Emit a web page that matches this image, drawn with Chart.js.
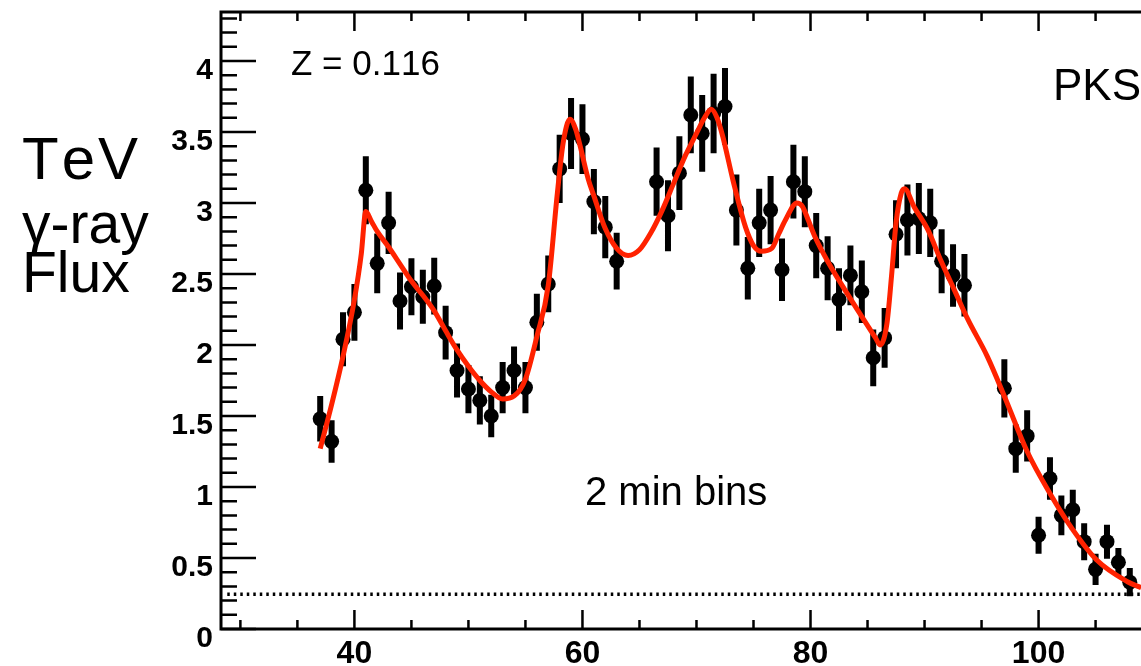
<!DOCTYPE html>
<html>
<head>
<meta charset="utf-8">
<script src="https://cdn.jsdelivr.net/npm/chart.js@4"></script>
<style>
  html, body { margin: 0; padding: 0; background: #fff; overflow: hidden; }
  #wrap { position: relative; width: 1141px; height: 666px; overflow: hidden; }
  canvas { position: absolute; left: 0; top: 0; }
  .txt { position: absolute; font-family: "Liberation Sans", Arial, sans-serif; color: #000; line-height: 1; white-space: nowrap; font-kerning: none; }
</style>
</head>
<body>
<div id="wrap">
  <canvas id="grafico" width="1200" height="666"></canvas>
  <div class="txt" style="left:22px; top:129px; font-size:60px; letter-spacing:3px;">TeV</div>
  <div class="txt" style="left:22px; top:195px; font-size:57px;">γ-ray</div>
  <div class="txt" style="left:22px; top:244px; font-size:57px;">Flux</div>
  <div class="txt" style="left:291px; top:45px; font-size:35px;">Z = 0.116</div>
  <div class="txt" style="left:1053px; top:63px; font-size:44px;">PKS 2155-304</div>
  <div class="txt" style="left:585px; top:471px; font-size:40px;">2 min bins</div>
</div>
<script>
// ==========================================
// Curva de luz TeV - PKS 2155-304
// ==========================================

// Pontos medidos (tempo, fluxo, erro)
const fluxTime = [
    37, 38, 39, 40, 41, 42, 43, 44, 45, 46, 47, 48, 49, 50, 51, 52, 53, 54, 55, 56, 57, 58, 59, 60, 61, 62, 63,
    66.5, 67.5, 68.5, 69.5, 70.5, 71.5, 72.5, 73.5, 74.5, 75.5, 76.5, 77.5, 78.5, 79.5, 80.5, 81.5, 82.5,
    83.5, 84.5, 85.5, 86.5, 87.5, 88.5, 89.5, 90.5, 91.5, 92.5, 93.5,
    97, 98, 99, 100, 101, 102, 103, 104, 105, 106, 107, 108
];
const fluxValue = [
    1.48, 1.32, 2.04, 2.23, 3.09, 2.575, 2.86, 2.31, 2.41, 2.34, 2.415, 2.087, 1.82, 1.69, 1.61, 1.50, 1.70, 1.82, 1.70, 2.16, 2.43, 3.24, 3.49, 3.45, 3.01, 2.83, 2.59,
    3.15, 2.91, 3.21, 3.62, 3.49, 3.63, 3.68, 2.95, 2.54, 2.86, 2.95, 2.53, 3.15, 3.08, 2.70, 2.54, 2.32,
    2.49, 2.375, 1.91, 2.05, 2.78, 2.88, 2.89, 2.86, 2.59, 2.49, 2.42,
    1.695, 1.27, 1.36, 0.66, 1.06, 0.80, 0.84, 0.615, 0.42, 0.615, 0.47, 0.33
];
const fluxError = [
    0.16, 0.15, 0.19, 0.20, 0.24, 0.21, 0.22, 0.20, 0.20, 0.19, 0.20, 0.19, 0.19, 0.17, 0.17, 0.15, 0.18, 0.17, 0.18, 0.20, 0.20, 0.24, 0.25, 0.245, 0.23, 0.22, 0.20,
    0.24, 0.25, 0.26, 0.27, 0.27, 0.28, 0.27, 0.25, 0.22, 0.24, 0.24, 0.22, 0.26, 0.25, 0.23, 0.225, 0.22,
    0.21, 0.22, 0.20, 0.21, 0.24, 0.25, 0.25, 0.24, 0.225, 0.22, 0.22,
    0.205, 0.17, 0.18, 0.13, 0.15, 0.14, 0.14, 0.13, 0.11, 0.12, 0.10, 0.10
];

// Curva ajustada (vermelha)
const fitTime = [
    37, 38, 39, 40, 40.6, 41, 41.5, 42, 43, 44, 45, 46, 47, 48, 49, 50, 51, 52, 53, 54, 55, 56, 57, 57.8, 58.3, 58.9,
    59.4, 59.8, 60.5, 61, 62, 63, 64, 65, 66, 67, 68, 69, 70, 70.7, 71.3, 71.8, 72.3, 73.2, 74.3, 75, 75.7, 76.6,
    77.2, 77.8, 78.8, 79.3, 79.8, 80.4, 81.6, 83, 84.5, 85.7, 86.1, 86.7, 87.1, 87.5, 87.96, 88.25, 89.1, 90.3,
    91.4, 92.6, 93.8, 95.5, 97.1, 99, 101, 103, 105.1, 107.8, 109
];
const fitValue = [
    1.27, 1.58, 1.92, 2.32, 2.64, 2.94, 2.87, 2.80, 2.69, 2.57, 2.45, 2.35, 2.24, 2.10, 1.965, 1.85, 1.75, 1.67, 1.62, 1.64, 1.76, 2.06, 2.42, 3.07, 3.42, 3.59,
    3.52, 3.40, 3.17, 3.05, 2.82, 2.68, 2.63, 2.67, 2.79, 2.95, 3.14, 3.33, 3.49, 3.60, 3.66, 3.60, 3.47, 3.16, 2.83, 2.70, 2.66, 2.68,
    2.78, 2.88, 3.00, 2.975, 2.88, 2.76, 2.575, 2.39, 2.20, 2.05, 2.00, 2.15, 2.48, 2.86, 3.07, 3.10, 2.97, 2.81,
    2.60, 2.39, 2.18, 1.92, 1.62, 1.25, 0.955, 0.70, 0.486, 0.333, 0.29
];

// Nível de fundo (linha pontilhada)
const baselineLevel = 0.245;
const baselineSpan = [28.85, 113.5];

// Eixos
const xRange = [28.3, 113.5];
const yRange = [0, 4.345];
const xTickLabels = [40, 60, 80, 100];
const yTickLabels = [0, 0.5, 1, 1.5, 2, 2.5, 3, 3.5, 4];
const xMinorTicks = [30, 35, 45, 50, 55, 65, 70, 75, 85, 90, 95, 105, 110];
const yMinorStep = 0.1;

// Barras de erro + moldura com ticks internos (estilo ROOT)
const molduraPlugin = {
    id: "moldura",
    beforeDatasetsDraw(chart) {
        const { ctx, scales: { x, y } } = chart;
        ctx.save();
        ctx.strokeStyle = "#000";
        ctx.lineWidth = 6;
        ctx.beginPath();
        fluxTime.forEach((t, i) => {
            const px = x.getPixelForValue(t);
            ctx.moveTo(px, y.getPixelForValue(fluxValue[i] - fluxError[i]));
            ctx.lineTo(px, y.getPixelForValue(fluxValue[i] + fluxError[i]));
        });
        ctx.stroke();
        ctx.restore();
    },
    afterDraw(chart) {
        const { ctx, chartArea: a, scales: { x, y } } = chart;
        ctx.save();
        ctx.strokeStyle = "#000";
        ctx.lineWidth = 3;
        ctx.strokeRect(a.left, a.top, a.right - a.left, a.bottom - a.top);

        ctx.lineWidth = 2.5;
        ctx.beginPath();
        // ticks do eixo Y
        const nY = Math.round(4.3 / yMinorStep);
        for (let i = 0; i <= nY; i++) {
            const v = i * yMinorStep;
            const major = yTickLabels.some(t => Math.abs(t - v) < 1e-6);
            const py = y.getPixelForValue(v);
            ctx.moveTo(a.left, py);
            ctx.lineTo(a.left + (major ? 35 : 16), py);
        }
        // ticks do eixo X (embaixo e em cima)
        const drawX = (v, len) => {
            const px = x.getPixelForValue(v);
            ctx.moveTo(px, a.bottom);
            ctx.lineTo(px, a.bottom - len);
            ctx.moveTo(px, a.top);
            ctx.lineTo(px, a.top + len);
        };
        xTickLabels.forEach(v => drawX(v, 19));
        xMinorTicks.forEach(v => drawX(v, 9));
        ctx.stroke();
        ctx.restore();
    }
};

const ctxFlux = document.getElementById("grafico");
new Chart(ctxFlux, {
    type: "scatter",
    data: {
        datasets: [
            {
                label: "Ajuste",
                type: "line",
                data: fitTime.map((t, i) => ({ x: t, y: fitValue[i] })),
                borderColor: "#ff2200",
                borderWidth: 5,
                pointRadius: 0,
                cubicInterpolationMode: "monotone",
                order: 0
            },
            {
                label: "Fluxo",
                data: fluxTime.map((t, i) => ({ x: t, y: fluxValue[i] })),
                backgroundColor: "#000",
                borderWidth: 0,
                pointRadius: 7.5,
                order: 1
            },
            {
                label: "Fundo",
                type: "line",
                data: baselineSpan.map(t => ({ x: t, y: baselineLevel })),
                borderColor: "#000",
                borderWidth: 3.5,
                borderDash: [2.5, 4],
                pointRadius: 0,
                order: 2
            }
        ]
    },
    options: {
        responsive: false,
        animation: false,
        devicePixelRatio: 1,
        layout: { padding: { top: 12, left: 0, right: 0, bottom: 0 } },
        plugins: { legend: { display: false }, tooltip: { enabled: false } },
        scales: {
            x: {
                type: "linear",
                min: xRange[0], max: xRange[1],
                grid: { display: false, drawTicks: false },
                border: { display: false },
                afterBuildTicks: s => { s.ticks = xTickLabels.map(v => ({ value: v })); },
                afterFit: s => { s.height = 37; s.paddingLeft = 0; s.paddingRight = 0; },
                ticks: {
                    color: "#000", padding: 6, maxRotation: 0, autoSkip: false,
                    font: { family: "Liberation Sans", size: 32, weight: "bold" }
                }
            },
            y: {
                min: yRange[0], max: yRange[1],
                grid: { display: false, drawTicks: false },
                border: { display: false },
                afterBuildTicks: s => { s.ticks = yTickLabels.map(v => ({ value: v })); },
                afterFit: s => { s.width = 221; s.paddingTop = 0; s.paddingBottom = 0; },
                ticks: {
                    color: "#000", padding: 8, autoSkip: false, labelOffset: 10,
                    callback: v => String(v),
                    font: { family: "Liberation Sans", size: 30, weight: "bold" }
                }
            }
        }
    },
    plugins: [molduraPlugin]
});
</script>
</body>
</html>
